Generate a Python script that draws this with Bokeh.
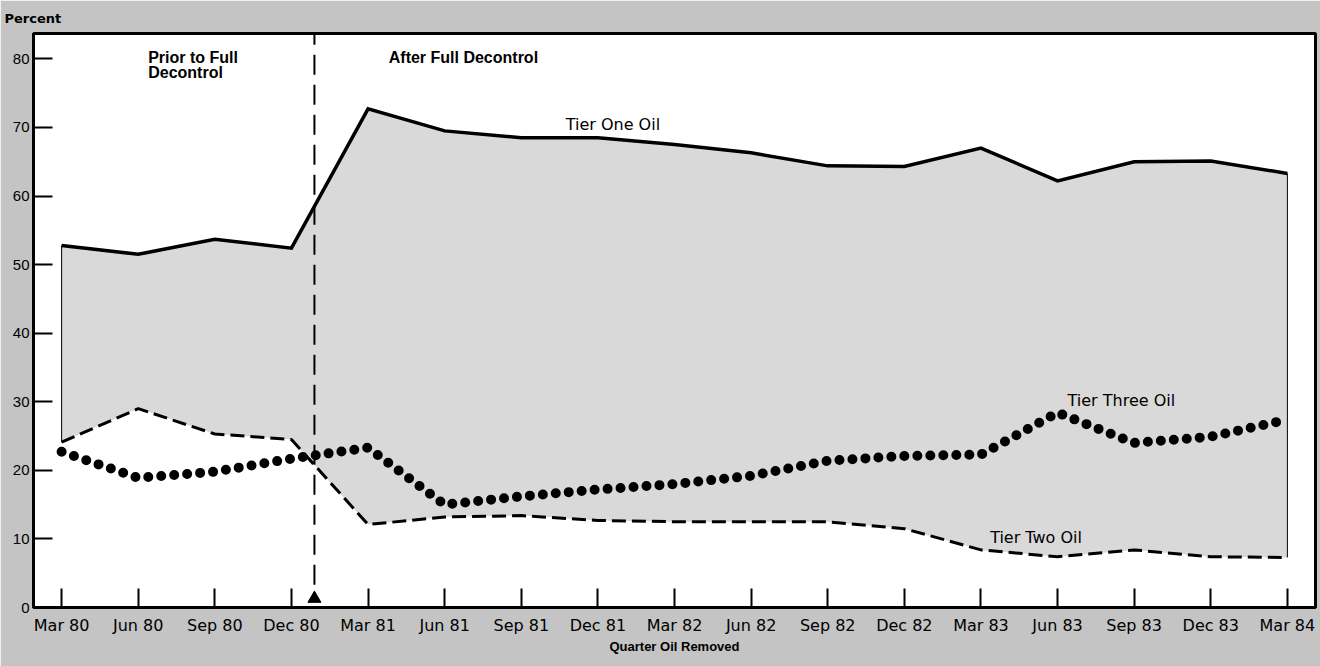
from bokeh.plotting import figure
from bokeh.models import FixedTicker, Range1d
from bokeh.core.properties import value
from bokeh.embed import file_html
from bokeh.resources import INLINE

quarters = ["Mar 80", "Jun 80", "Sep 80", "Dec 80", "Mar 81", "Jun 81", "Sep 81",
            "Dec 81", "Mar 82", "Jun 82", "Sep 82", "Dec 82", "Mar 83", "Jun 83",
            "Sep 83", "Dec 83", "Mar 84"]
tier_one = [52.8, 51.5, 53.7, 52.4, 72.7, 69.5, 68.5, 68.5, 67.5, 66.3, 64.4, 64.3,
            67.0, 62.2, 65.0, 65.1, 63.3]
tier_two = [24.1, 29.0, 25.3, 24.5, 12.1, 13.2, 13.4, 12.7, 12.5, 12.5, 12.5, 11.5,
            8.4, 7.4, 8.4, 7.4, 7.3]
tier_three = [22.7, 18.9, 19.8, 21.7, 23.3, 15.0, 16.2, 17.2, 18.0, 19.2, 21.4, 22.1,
              22.3, 28.4, 24.0, 24.9, 27.4]
y_ticks = [0, 10, 20, 30, 40, 50, 60, 70, 80]
decontrol_x = 3.3
y_top = 83.7

xs = list(range(len(quarters)))

p = figure(width=1320, height=666, output_backend="svg", toolbar_location=None,
           x_range=Range1d(-0.367, 16.367), y_range=Range1d(0, y_top),
           min_border_left=33, min_border_right=5, min_border_top=32,
           min_border_bottom=59)
p.background_fill_color = "white"
p.border_fill_color = "#c4c4c4"
p.outline_line_color = "black"
p.outline_line_width = 3
p.grid.visible = False

p.title.text = "Percent"
p.title.align = "left"
p.title.offset = -29
p.title.standoff = 16
p.title.text_font = "DejaVu Sans"
p.title.text_font_size = "13px"
p.title.text_font_style = "bold"
p.title.text_color = "black"

for ax in (p.xaxis[0], p.yaxis[0]):
    ax.axis_line_width = 3
    ax.axis_line_color = "black"
    ax.major_tick_in = 19
    ax.major_tick_out = 0
    ax.major_tick_line_width = 2
    ax.major_tick_line_color = "black"
    ax.minor_tick_line_color = None
    ax.major_label_text_color = "black"

p.xaxis.ticker = FixedTicker(ticks=xs)
p.xaxis.major_label_overrides = {i: q for i, q in enumerate(quarters)}
p.xaxis.major_label_text_font = "DejaVu Sans"
p.xaxis.major_label_text_font_size = "16px"
p.xaxis.major_label_standoff = 8
p.xaxis.axis_label = "Quarter Oil Removed"
p.xaxis.axis_label_text_font = "Liberation Sans"
p.xaxis.axis_label_text_font_size = "13px"
p.xaxis.axis_label_text_font_style = "bold"
p.xaxis.axis_label_text_color = "black"
p.xaxis.axis_label_standoff = 1

p.yaxis.ticker = FixedTicker(ticks=y_ticks)
p.yaxis.major_label_text_font = "Liberation Sans"
p.yaxis.major_label_text_font_size = "15px"
p.yaxis.major_label_standoff = 4

# shaded band between tier one and tier two
p.varea(x=xs, y1=tier_two, y2=tier_one, fill_color="#d9d9d9")
p.segment(x0=[xs[0], xs[-1]], y0=[tier_two[0], tier_two[-1]],
          x1=[xs[0], xs[-1]], y1=[tier_one[0], tier_one[-1]],
          line_color="black", line_width=1)

p.line(xs, tier_two, line_color="black", line_width=3, line_dash="14 6")
p.line(xs, tier_three, line_color="black", line_width=10, line_dash="0 13",
       line_cap="round")
p.line(xs, tier_one, line_color="black", line_width=3.5, line_join="miter")

# decontrol marker
p.segment(x0=[decontrol_x], y0=[3.3], x1=[decontrol_x], y1=[y_top],
          line_color="black", line_width=2, line_dash="20 10")
p.scatter([decontrol_x], [1.3], marker="triangle", size=13, color="black")

p.text(x=[1.13, 1.13, 4.27], y=[81.5, 79.3, 81.5],
       text=["Prior to Full", "Decontrol", "After Full Decontrol"],
       text_font=value("Liberation Sans"), text_font_size="16px",
       text_font_style="bold", text_baseline="top", text_align="left",
       text_color="black")
p.text(x=[6.58, 13.13, 12.12], y=[71.8, 31.6, 11.6],
       text=["Tier One Oil", "Tier Three Oil", "Tier Two Oil"],
       text_font=value("DejaVu Sans"), text_font_size="16px",
       text_baseline="top", text_align="left", text_color="black")

open("out.html", "w").write(file_html(p, INLINE))
